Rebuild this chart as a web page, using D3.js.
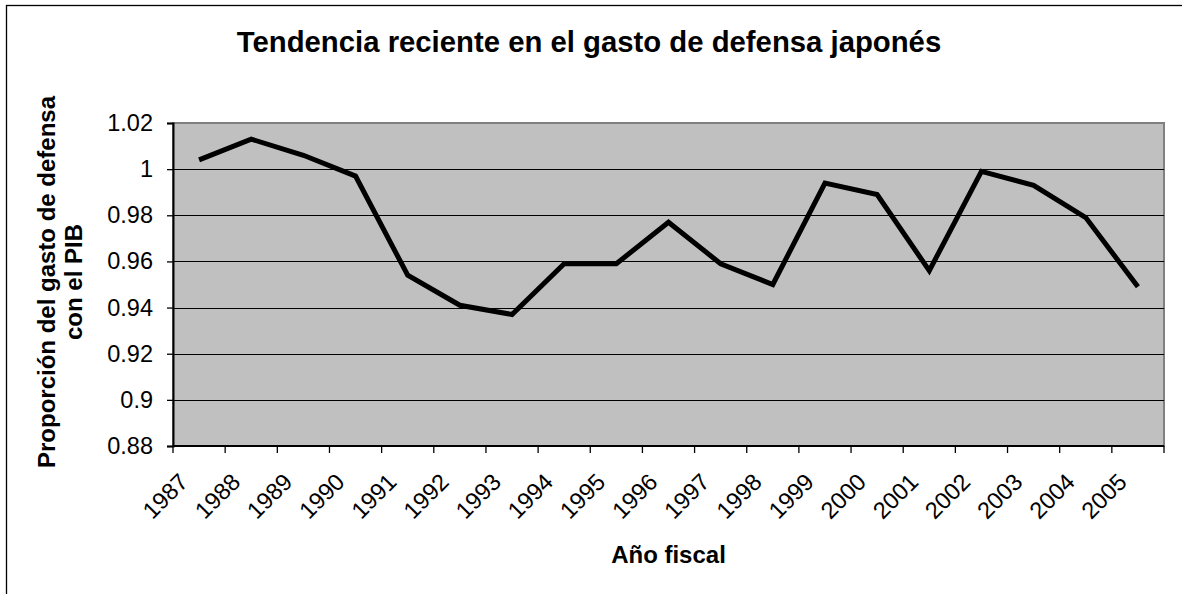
<!DOCTYPE html>
<html>
<head>
<meta charset="utf-8">
<script src="https://cdn.jsdelivr.net/npm/d3@7"></script>
<style>
  body { margin: 0; background: #fff; }
  svg { display: block; font-family: "Liberation Sans", Arial, sans-serif; }
</style>
</head>
<body>
<div id="chart"></div>
<script>
//fiscal years
const years = ["1987", "1988", "1989", "1990", "1991", "1992", "1993", "1994", "1995", "1996",
  "1997", "1998", "1999", "2000", "2001", "2002", "2003", "2004", "2005"];

//defense spending as % of GDP
const ratio = [1.004, 1.013, 1.006, 0.997, 0.954, 0.941, 0.937, 0.959, 0.959, 0.977,
  0.959, 0.950, 0.994, 0.989, 0.956, 0.999, 0.993, 0.979, 0.949];

//y tick values
const yTicks = [0.88, 0.9, 0.92, 0.94, 0.96, 0.98, 1, 1.02];

//size
const width = 1182;
const height = 594;
const margin = { top: 123, right: 18, bottom: 148, left: 173 };
const innerWidth = width - margin.left - margin.right;
const innerHeight = height - margin.top - margin.bottom;
const fontFamily = "Liberation Sans, Arial, sans-serif";

const svg = d3.select("#chart")
  .append("svg")
  .attr("width", width)
  .attr("height", height);

//outer frame (only top/left inside the picture)
svg.append("rect")
  .attr("x", 6.5).attr("y", 5.5)
  .attr("width", width + 20).attr("height", height + 20)
  .attr("fill", "none").attr("stroke", "#000").attr("stroke-width", 1.3);

//scales
const x = d3.scaleBand().domain(years).range([0, innerWidth]);
const y = d3.scaleLinear().domain([0.88, 1.02]).range([innerHeight, 0]);

const g = svg.append("g").attr("transform", `translate(${margin.left},${margin.top})`);

//plot background
g.append("rect")
  .attr("width", innerWidth).attr("height", innerHeight)
  .attr("fill", "#c0c0c0")
  .attr("stroke", "#808080").attr("stroke-width", 2);

//grid lines
g.selectAll("line.grid")
  .data(yTicks.slice(1, -1))
  .join("line")
  .attr("class", "grid")
  .attr("x1", 0).attr("x2", innerWidth)
  .attr("y1", (d) => Math.round(y(d)) + 0.5).attr("y2", (d) => Math.round(y(d)) + 0.5)
  .attr("stroke", "#000").attr("stroke-width", 1);

//y axis
const yAxis = g.append("g")
  .call(d3.axisLeft(y).tickValues(yTicks).tickSize(6).tickPadding(14).tickFormat((d) => String(+d.toFixed(2))));
yAxis.select(".domain").attr("stroke", "#000").attr("stroke-width", 2);
yAxis.selectAll(".tick line").attr("stroke", "#000").attr("stroke-width", 1.3);
yAxis.selectAll(".tick text")
  .attr("font-size", 23.5).attr("fill", "#000")
  .attr("font-family", fontFamily);

//x axis: ticks on band edges
const xAxisG = g.append("g").attr("transform", `translate(0,${innerHeight})`);
xAxisG.append("line")
  .attr("x1", 0).attr("x2", innerWidth)
  .attr("stroke", "#000").attr("stroke-width", 2);
xAxisG.selectAll("line.tick")
  .data(years.concat(["end"]))
  .join("line")
  .attr("class", "tick")
  .attr("x1", (d, i) => i * x.step()).attr("x2", (d, i) => i * x.step())
  .attr("y1", 0).attr("y2", 7)
  .attr("stroke", "#000").attr("stroke-width", 1.3);
xAxisG.selectAll("text")
  .data(years)
  .join("text")
  .attr("transform", (d) => `translate(${x(d) + x.bandwidth() / 2 - 14},${33}) rotate(-45)`)
  .attr("text-anchor", "end")
  .attr("dominant-baseline", "middle")
  .attr("font-size", 23.5)
  .attr("fill", "#000")
  .text((d) => d);

//data line
const line = d3.line()
  .x((d, i) => x(years[i]) + x.bandwidth() / 2)
  .y((d) => y(d));

g.append("path")
  .datum(ratio)
  .attr("d", line)
  .attr("fill", "none")
  .attr("stroke", "#000")
  .attr("stroke-width", 5)
  .attr("stroke-linejoin", "miter");

//title
svg.append("text")
  .attr("x", 589).attr("y", 52)
  .attr("text-anchor", "middle")
  .attr("font-size", 29.3).attr("font-weight", "bold")
  .text("Tendencia reciente en el gasto de defensa japonés");

//x axis title
svg.append("text")
  .attr("x", margin.left + innerWidth / 2).attr("y", 563)
  .attr("text-anchor", "middle")
  .attr("font-size", 24).attr("font-weight", "bold")
  .text("Año fiscal");

//y axis title (two lines)
const yTitle = svg.append("text")
  .attr("transform", `translate(55,282) rotate(-90)`)
  .attr("text-anchor", "middle")
  .attr("font-size", 24).attr("font-weight", "bold");
yTitle.append("tspan").attr("x", 0).attr("y", 0).text("Proporción del gasto de defensa");
yTitle.append("tspan").attr("x", 0).attr("y", 27).text("con el PIB");
</script>
</body>
</html>
